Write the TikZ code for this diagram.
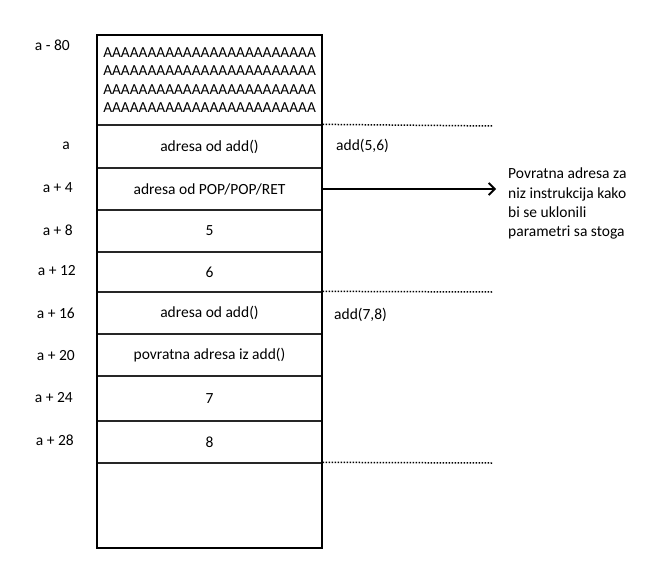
\documentclass[tikz,border=0pt]{standalone}
\usepackage{fontspec}
\setmainfont{Carlito}
\usetikzlibrary{arrows.meta}
\begin{document}
\begin{tikzpicture}[x=1pt,y=-1pt,
  txt/.style={font=\fontsize{15.5}{18}\selectfont},
  cell/.style={draw=black!85, line width=1.3pt, minimum width=225pt, inner sep=0pt, txt},
  addr/.style={anchor=east, inner sep=0pt, txt},
  frame/.style={draw, line width=2pt},
  sep/.style={line width=1.5pt, dash pattern=on 1.5pt off 1.5pt},
  callnote/.style={anchor=west, inner sep=0pt, txt}]
\useasboundingbox (0,0) rectangle (647,562);
% cells
\node[cell, minimum height=90pt, align=center, font=\fontsize{15.3}{18.5}\selectfont] (buf) at (209.5,80) {AAAAAAAAAAAAAAAAAAAAAAAA\\AAAAAAAAAAAAAAAAAAAAAAAA\\AAAAAAAAAAAAAAAAAAAAAAAA\\AAAAAAAAAAAAAAAAAAAAAAAA};
\node[cell, minimum height=43pt] (c0) at (209.5,146.5) {\raisebox{-2pt}{adresa od add()}};
\node[cell, minimum height=42pt] (c4) at (209.5,189) {adresa od POP/POP/RET};
\node[cell, minimum height=42pt] (c8) at (209.5,231) {5};
\node[cell, minimum height=40pt] (c12) at (209.5,272) {6};
\node[cell, minimum height=42pt] (c16) at (209.5,313) {\raisebox{-2pt}{adresa od add()}};
\node[cell, minimum height=42pt] (c20) at (209.5,355) {povratna adresa iz add()};
\node[cell, minimum height=45pt] (c24) at (209.5,398.5) {7};
\node[cell, minimum height=42pt] (c28) at (209.5,442) {8};
\node[cell, minimum height=85pt] (free) at (209.5,505.5) {};
\node[frame, minimum width=225pt, minimum height=513pt, inner sep=0pt] (stack) at (209.5,291.5) {};
% address labels
\node[addr] (l80) at (70,45) {a - 80};
\node[addr] (l0) at (70,146) {a};
\node[addr] (l4) at (73,188) {a + 4};
\node[addr] (l8) at (73,230) {a + 8};
\node[addr] (l12) at (76,271) {a + 12};
\node[addr] (l16) at (75,313) {a + 16};
\node[addr] (l20) at (75,356) {a + 20};
\node[addr] (l24) at (73,398) {a + 24};
\node[addr] (l28) at (74,440) {a + 28};
% call frames
\coordinate (d1) at (493,126);
\coordinate (d2) at (493,292);
\coordinate (d3) at (493,463);
\draw[sep] (c0.north east) -- (d1);
\draw[sep] (c16.north east) -- (d2);
\draw[sep] (free.north east) -- (d3);
\node[callnote] (f1) at (336,146) {add(5,6)};
\node[callnote] (f2) at (334,315) {add(7,8)};
% note
\node[anchor=north west, inner sep=0pt, align=left, font=\fontsize{15.5}{19.3}\selectfont] (note) at (508,168)
  {Povratna adresa za\\niz instrukcija kako\\bi se uklonili\\parametri sa stoga};
\coordinate (tip) at (496,189);
\draw[line width=1.8pt, -{Straight Barb[length=6pt,width=12pt,line width=1.8pt]}] (c4.east) -- (tip);
\end{tikzpicture}
\end{document}
